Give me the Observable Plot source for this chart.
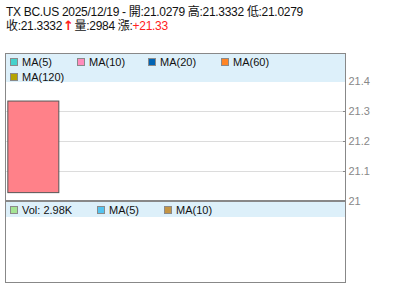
<!DOCTYPE html>
<html>
<head>
<meta charset="utf-8">
<script src="https://cdn.jsdelivr.net/npm/d3@7"></script>
<script src="https://cdn.jsdelivr.net/npm/@observablehq/plot@0.6"></script>
<style>
  html, body { margin: 0; padding: 0; background: #fff; }
  #wrap { position: relative; width: 400px; height: 301px; overflow: hidden;
          font-family: "Liberation Sans", Arial, "Noto Sans CJK TC", sans-serif; color: #111; }
  .abs { position: absolute; }
  .hdr { position: absolute; left: 6px; font-size: 12px; line-height: 14px; white-space: nowrap; letter-spacing: -0.3px; }
  .red { color: #ff2020; }
  .arrow { color: #ff2020; font-weight: bold; font-size: 13px; font-family: "DejaVu Sans", sans-serif; margin: 0 1px; }
  .item { position: absolute; font-size: 11px; line-height: 12px; white-space: nowrap; color: #111; }
  .sw { position: absolute; width: 8px; height: 8px; box-sizing: border-box; border: 1px solid #8a8a8a; }
  #plot { position: absolute; left: 0; top: 0; }
</style>
</head>
<body>
<div id="wrap"></div>
<script>
// ---- data ----
const symbol = "TX BC.US";
const dates = ["2025/12/19"];
const openV = [21.0279];
const highV = [21.3332];
const lowV = [21.0279];
const closeV = [21.3332];
const volumeV = [2984];
const changeV = [21.33];
const yTicks = [21, 21.1, 21.2, 21.3, 21.4];
const yTickLabels = ["21", "21.1", "21.2", "21.3", "21.4"];
const gridTicks = [21.1, 21.2, 21.3];
const maLabels = ["MA(5)", "MA(10)", "MA(20)", "MA(60)", "MA(120)"];
const maColors = ["#44d2cc", "#ff8cbc", "#0064b4", "#ff8424", "#b4a400"];
const volLabels = ["Vol: " + (volumeV[0] / 1000).toFixed(2) + "K", "MA(5)", "MA(10)"];
const volColors = ["#a4e494", "#54c4f0", "#c49444"];

const candles = dates.map((d, i) => ({
  i, date: d, open: openV[i], high: highV[i], low: lowV[i], close: closeV[i], volume: volumeV[i]
}));

const wrap = document.getElementById("wrap");

// ---- price panel with Plot ----
const chart = Plot.plot({
  width: 400,
  height: 301,
  marginLeft: 5,
  marginRight: 55,
  marginTop: 81,
  marginBottom: 100,
  style: { background: "transparent", fontSize: "11px", fontFamily: "Liberation Sans, Arial, sans-serif", overflow: "visible" },
  x: { type: "linear", domain: [-0.5, 5.5], axis: null },
  y: { domain: [21, 21.4], axis: null },
  marks: [
    Plot.ruleY(gridTicks, { stroke: "#dcdcdc", strokeWidth: 1 }),
    Plot.ruleX(candles, { x: "i", y1: "low", y2: "high", stroke: "#555" }),
    Plot.rect(candles, {
      x1: d => d.i - 0.45, x2: d => d.i + 0.45,
      y1: "open", y2: "close",
      fill: d => d.close >= d.open ? "#ff8189" : "#66bb66",
      stroke: "#555", strokeWidth: 1
    }),
    Plot.axisY({
      anchor: "right", ticks: yTicks, tickSize: -3, tickPadding: 6, color: "#888", fontSize: 11,
      tickFormat: d => yTickLabels[yTicks.indexOf(d)]
    })
  ]
});
chart.id = "plot";
wrap.appendChild(chart);

// ---- header ----
const h1 = document.createElement("div");
h1.className = "hdr";
h1.style.top = "5px";
h1.textContent = `${symbol} ${dates[0]} - 開:${openV[0]} 高:${highV[0]} 低:${lowV[0]}`;
wrap.appendChild(h1);

const h2 = document.createElement("div");
h2.className = "hdr";
h2.style.top = "19px";
h2.innerHTML = `收:${closeV[0]}<span class="arrow">↑</span>量:${volumeV[0]} 漲:<span class="red">+${changeV[0]}</span>`;
wrap.appendChild(h2);

// ---- frame & panels ----
function box(left, top, w, h, css) {
  const d = document.createElement("div");
  d.className = "abs";
  Object.assign(d.style, { left: left + "px", top: top + "px", width: w + "px", height: h + "px" }, css || {});
  wrap.appendChild(d);
  return d;
}
box(6, 54, 339, 28, { background: "#ddf0fa" });
box(6, 202, 339, 15, { background: "#ddf0fa" });
box(5, 200, 341, 2, { background: "#888" });
box(5, 53, 341, 230, { border: "1px solid #888", boxSizing: "border-box" });

function legendItem(x, y, color, label) {
  const s = document.createElement("div");
  s.className = "sw";
  s.style.left = x + "px";
  s.style.top = y + "px";
  s.style.background = color;
  wrap.appendChild(s);
  const t = document.createElement("div");
  t.className = "item";
  t.style.left = (x + 12) + "px";
  t.style.top = (y - 2) + "px";
  t.textContent = label;
  wrap.appendChild(t);
}
const maX = [10, 77, 148, 221, 10];
const maY = [58, 58, 58, 58, 73];
maLabels.forEach((l, k) => legendItem(maX[k], maY[k], maColors[k], l));
const volX = [10, 97, 164];
volLabels.forEach((l, k) => legendItem(volX[k], 206, volColors[k], l));
</script>
</body>
</html>
